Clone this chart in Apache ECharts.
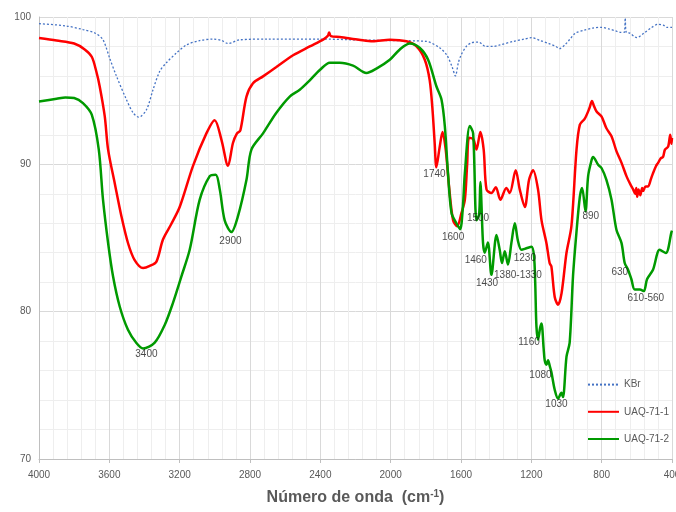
<!DOCTYPE html>
<html>
<head>
<meta charset="utf-8">
<script src="https://cdn.jsdelivr.net/npm/echarts@6/dist/echarts.min.js"></script>
<style>
html, body { margin: 0; padding: 0; background: #fff; }
#chart { width: 676px; height: 512px; }
</style>
</head>
<body>
<div id="chart"></div>
<script>
var narrow = "'Liberation Sans Narrow', 'Liberation Sans', sans-serif";

// KBr
var kbrWave = [4000, 3850, 3750, 3680, 3636, 3598, 3560, 3503, 3465, 3433, 3389, 3352, 3314, 3275, 3219, 3162, 3086, 3010, 2960, 2925, 2858, 2700, 2400, 2200, 2000, 1800, 1720, 1680, 1650, 1632, 1615, 1600, 1570, 1540, 1500, 1460, 1420, 1380, 1300, 1240, 1200, 1150, 1100, 1060, 1040, 1010, 980, 950, 900, 850, 800, 760, 720, 690, 672, 666, 660, 640, 600, 560, 520, 480, 450, 430, 400];
var kbrT = [99.55, 99.4, 99.15, 98.9, 98.45, 97.2, 96.0, 94.4, 93.5, 93.2, 93.7, 95.05, 96.3, 96.9, 97.55, 98.1, 98.4, 98.5, 98.4, 98.2, 98.45, 98.5, 98.5, 98.45, 98.4, 98.35, 97.9, 97.4, 96.6, 96.0, 96.9, 97.4, 98.0, 98.25, 98.3, 98.0, 98.0, 98.1, 98.35, 98.5, 98.6, 98.4, 98.2, 98.0, 97.85, 98.1, 98.5, 98.9, 99.1, 99.25, 99.3, 99.2, 99.05, 98.95, 98.95, 99.93, 98.95, 98.9, 98.6, 98.9, 99.25, 99.5, 99.45, 99.3, 99.3];

// UAQ-71-1
var r1Wave = [4000, 3900, 3800, 3740, 3700, 3674, 3655, 3626, 3607, 3569, 3531, 3494, 3456, 3408, 3370, 3332, 3295, 3250, 3200, 3124, 3048, 3001, 2963, 2925, 2897, 2874, 2855, 2820, 2783, 2726, 2650, 2555, 2460, 2380, 2356, 2350, 2340, 2290, 2180, 2102, 2005, 1910, 1853, 1806, 1778, 1762, 1750, 1740, 1721, 1705, 1687, 1668, 1645, 1622, 1597, 1578, 1565, 1554, 1530, 1512, 1490, 1471, 1455, 1427, 1402, 1376, 1342, 1323, 1289, 1266, 1237, 1213, 1190, 1162, 1142, 1114, 1096, 1086, 1067, 1048, 1028, 1000, 972, 943, 924, 896, 870, 855, 845, 830, 801, 773, 744, 716, 687, 659, 635, 621, 610, 603, 598, 590, 580, 570, 564, 550, 536, 520, 508, 490, 479, 465, 451, 440, 422, 410, 403, 400];
var r1T = [98.57, 98.4, 98.2, 97.8, 97.3, 96.3, 95.3, 93.25, 91.0, 88.7, 86.46, 84.66, 83.5, 82.96, 83.1, 83.4, 84.9, 85.9, 87.1, 89.9, 92.1, 93.0, 91.7, 89.9, 91.45, 92.1, 92.3, 94.6, 95.5, 95.97, 96.6, 97.4, 98.0, 98.5, 98.75, 98.95, 98.7, 98.64, 98.46, 98.35, 98.46, 98.35, 98.0, 97.1, 95.7, 93.7, 91.5, 89.8, 91.2, 92.2, 91.0, 88.5, 86.2, 85.8, 86.7, 87.6, 90.0, 91.8, 91.7, 91.0, 92.2, 91.0, 88.3, 88.05, 88.45, 87.6, 88.4, 88.05, 89.6, 88.3, 87.1, 88.95, 89.6, 88.3, 86.2, 84.65, 83.3, 83.07, 81.0, 80.47, 81.26, 84.0, 85.8, 91.0, 92.7, 93.1, 93.8, 94.3, 94.0, 93.6, 93.25, 92.45, 91.9, 90.9, 90.1, 89.2, 88.6, 88.3, 88.0, 88.4, 87.8, 88.3, 87.9, 88.4, 88.2, 88.5, 88.5, 89.0, 89.4, 89.9, 90.1, 90.4, 90.5, 91.0, 91.2, 92.0, 91.4, 91.8];

// UAQ-71-2
var r2Wave = [4000, 3900, 3850, 3800, 3750, 3700, 3660, 3636, 3607, 3579, 3541, 3494, 3446, 3408, 3342, 3285, 3238, 3190, 3143, 3086, 3029, 2995, 2972, 2944, 2906, 2868, 2820, 2792, 2726, 2650, 2574, 2517, 2460, 2403, 2346, 2290, 2214, 2138, 2081, 2005, 1948, 1891, 1834, 1787, 1740, 1711, 1692, 1674, 1654, 1626, 1605, 1590, 1578, 1550, 1531, 1512, 1497, 1490, 1475, 1465, 1447, 1427, 1398, 1380, 1367, 1351, 1333, 1313, 1294, 1276, 1256, 1228, 1199, 1185, 1178, 1171, 1162, 1150, 1142, 1130, 1124, 1114, 1105, 1095, 1086, 1067, 1048, 1029, 1020, 1000, 982, 963, 944, 924, 911, 892, 877, 857, 849, 820, 801, 773, 744, 716, 687, 669, 650, 631, 612, 583, 560, 542, 508, 470, 435, 403, 400];
var r2T = [94.27, 94.45, 94.54, 94.5, 94.16, 93.37, 91.0, 87.6, 84.66, 82.4, 80.35, 78.77, 77.87, 77.5, 77.9, 79.1, 80.6, 82.4, 84.2, 87.6, 89.2, 89.3, 88.3, 86.2, 85.4, 86.5, 88.95, 91.0, 92.1, 93.5, 94.6, 95.06, 95.7, 96.4, 96.9, 96.9, 96.7, 96.2, 96.5, 97.1, 97.8, 98.2, 97.9, 97.1, 95.3, 94.4, 92.6, 89.4, 86.7, 86.0, 85.6, 87.0, 89.4, 92.6, 92.1, 86.2, 86.6, 88.8, 84.7, 84.0, 84.7, 82.5, 85.2, 84.2, 83.3, 84.1, 83.2, 84.7, 86.0, 84.8, 84.2, 84.3, 84.4, 83.8, 82.0, 79.0, 78.1, 78.9, 79.2, 77.5, 76.7, 76.4, 76.7, 76.3, 75.9, 74.7, 74.1, 74.5, 74.2, 76.95, 77.9, 82.4, 85.3, 87.8, 88.4, 86.8, 89.2, 90.3, 90.5, 89.97, 89.75, 88.95, 87.6, 85.56, 84.65, 83.3, 82.85, 82.2, 81.5, 81.5, 81.4, 82.2, 82.85, 84.2, 83.98, 85.4, 85.5];

// peak annotations [wavenumber, %T, text]
var peakWave = [3389, 2911, 1751, 1645, 1503, 1516, 1452, 1276, 1237, 1213, 1148, 1057, 862, 697, 549];
var peakT = [77.1, 84.8, 89.3, 85.06, 86.35, 83.5, 81.9, 82.5, 83.6, 77.9, 75.7, 73.7, 86.5, 82.7, 80.9];
var peakText = ['3400', '2900', '1740', '1600', '1500', '1460', '1430', '1380-1330', '1230', '1160', '1080', '1030', '890', '630', '610-560'];

function pairs(xs, ys) {
    var out = [];
    for (var i = 0; i < xs.length; i++) out.push([xs[i], ys[i]]);
    return out;
}

var peaks = [];
for (var i = 0; i < peakWave.length; i++) {
    peaks.push({ value: [peakWave[i], peakT[i]], name: peakText[i] });
}

var chart = echarts.init(document.getElementById('chart'));
chart.setOption({
    animation: false,
    grid: {
        left: 39,
        right: 4,
        top: 17,
        bottom: 53,
        containLabel: false,
        outerBoundsMode: 'none'
    },
    legend: {
        data: ['KBr', 'UAQ-71-1', 'UAQ-71-2'],
        orient: 'vertical',
        left: 587,
        top: 379,
        padding: 0,
        itemWidth: 31,
        itemHeight: 14,
        itemGap: 16,
        itemStyle: { opacity: 0 },
        textStyle: { color: '#595959', fontSize: 10, fontFamily: narrow }
    },
    xAxis: {
        type: 'value',
        inverse: true,
        min: 400,
        max: 4000,
        interval: 400,
        name: '{a|Número de onda  (cm}{s|-1}{a|)}',
        nameLocation: 'middle',
        nameGap: 30,
        nameTextStyle: {
            rich: {
                a: { fontSize: 16, fontWeight: 'bold', color: '#595959', fontFamily: narrow },
                s: { fontSize: 10, fontWeight: 'bold', color: '#595959', fontFamily: narrow, verticalAlign: 'top', padding: [0, 0, 8, 0] }
            }
        },
        axisLine: { lineStyle: { color: '#bfbfbf' } },
        axisTick: { show: true, length: 4, lineStyle: { color: '#bfbfbf' } },
        axisLabel: {
            color: '#595959', fontSize: 10, fontFamily: narrow, margin: 11,
            formatter: function (v) { return String(v); }
        },
        splitLine: { show: true, lineStyle: { color: '#d9d9d9' } },
        minorTick: { show: false, splitNumber: 5 },
        minorSplitLine: { show: true, lineStyle: { color: '#eeeeee' } }
    },
    yAxis: {
        type: 'value',
        min: 70,
        max: 100,
        interval: 10,
        name: '% T',
        nameLocation: 'middle',
        nameGap: 19,
        nameRotate: 90,
        nameTextStyle: { fontSize: 15, fontWeight: 'bold', color: '#404040', fontFamily: narrow },
        axisLine: { show: true, lineStyle: { color: '#bfbfbf' } },
        axisTick: { show: false },
        axisLabel: { color: '#595959', fontSize: 10, fontFamily: narrow, margin: 8 },
        splitLine: { show: true, lineStyle: { color: '#d9d9d9' } },
        minorTick: { show: false, splitNumber: 5 },
        minorSplitLine: { show: true, lineStyle: { color: '#eeeeee' } }
    },
    series: [
        {
            name: 'KBr',
            type: 'line',
            data: pairs(kbrWave, kbrT),
            symbol: 'none',
            smooth: 0.3,
            color: '#4472c4',
            lineStyle: { color: '#4472c4', width: 1.3, type: [2, 2] },
            z: 3
        },
        {
            name: 'UAQ-71-1',
            type: 'line',
            data: pairs(r1Wave, r1T),
            symbol: 'none',
            smooth: 0.3,
            color: '#ff0000',
            lineStyle: { color: '#ff0000', width: 2.5 },
            z: 4
        },
        {
            name: 'UAQ-71-2',
            type: 'line',
            data: pairs(r2Wave, r2T),
            symbol: 'none',
            smooth: 0.3,
            color: '#009a00',
            lineStyle: { color: '#009a00', width: 2.5 },
            z: 5
        },
        {
            name: 'peaks',
            type: 'scatter',
            data: peaks,
            symbolSize: 0,
            silent: true,
            z: 6,
            label: {
                show: true,
                position: 'inside',
                formatter: function (p) { return p.name; },
                color: '#1a1a1a',
                fontSize: 10,
                fontFamily: narrow
            }
        }
    ]
});
</script>
</body>
</html>
